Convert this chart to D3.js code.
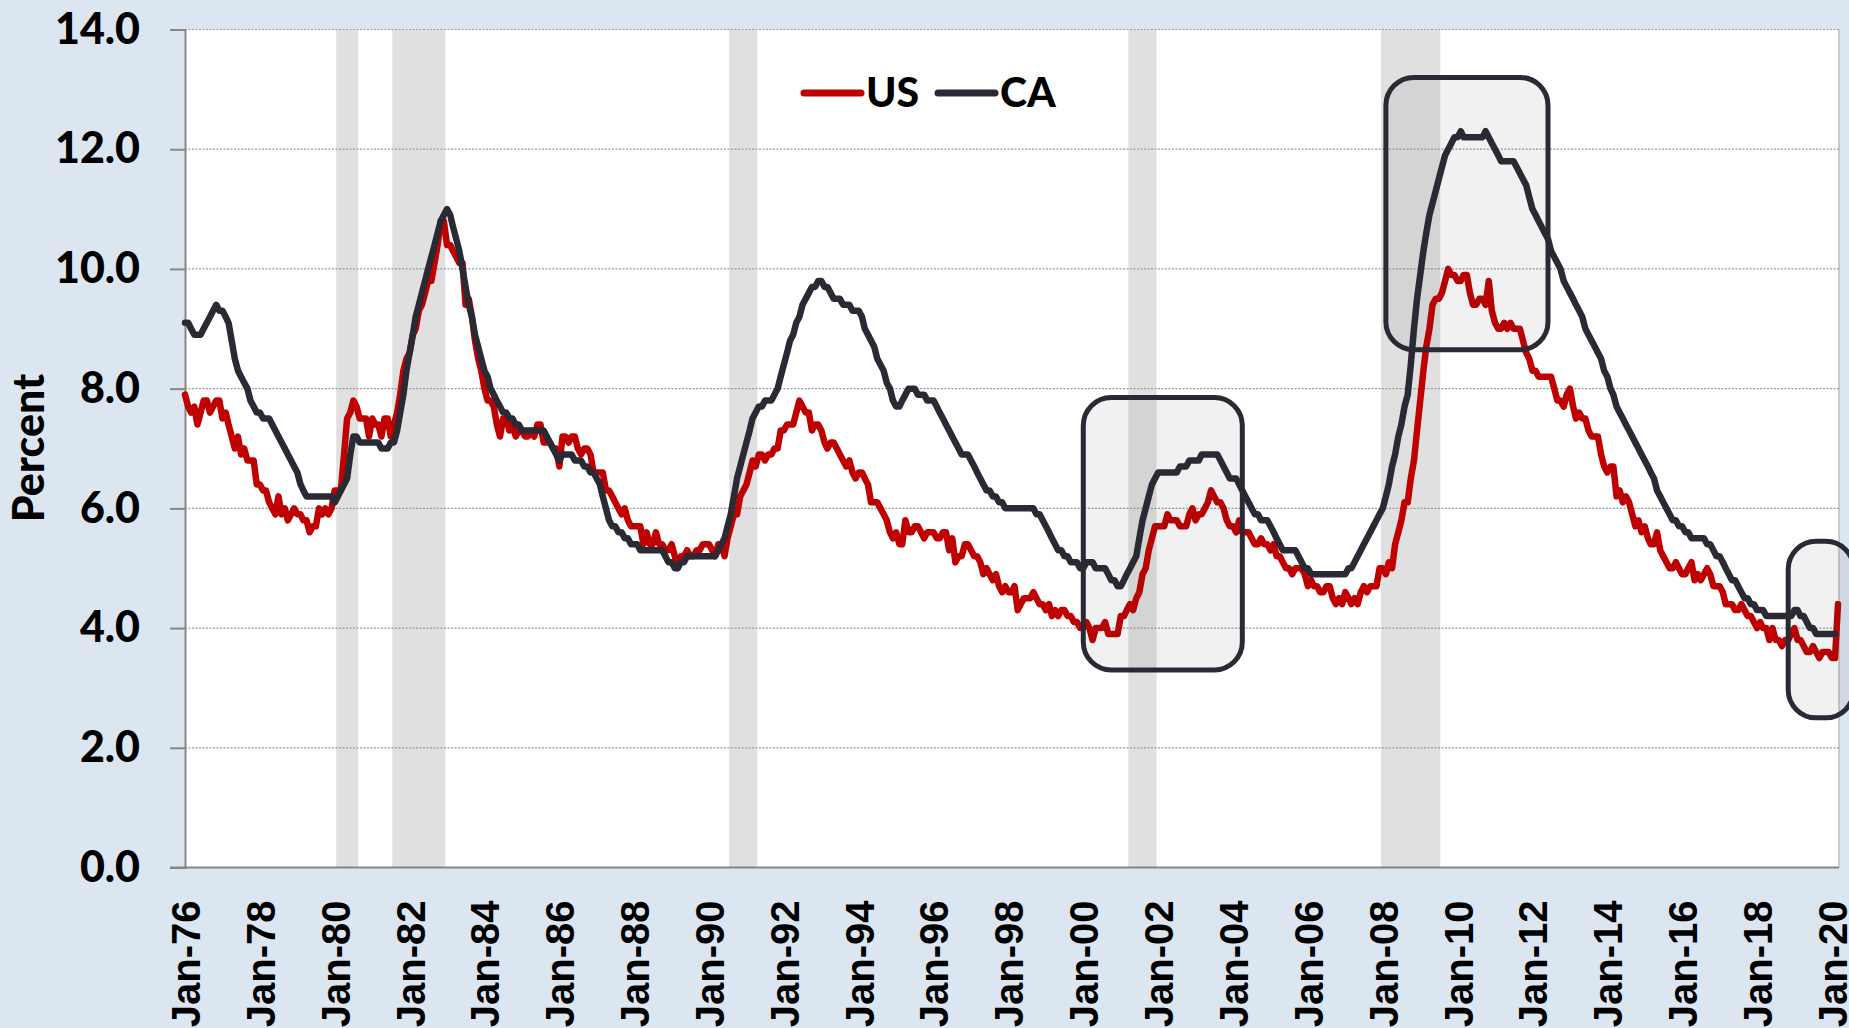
<!DOCTYPE html>
<meta charset="utf-8">
<script src="https://d3js.org/d3.v7.min.js"></script>
<style>
  body { margin: 0; background: #dce6f1; }
</style>
<div id="chart"></div>
<script>

// monthly unemployment rate, Jan-76 .. Mar-20 (US) and Jan-76 .. Feb-20 (CA)
var usRate = [
  7.9,7.7,7.6,7.7,7.4,7.6,7.8,7.8,7.6,7.7,7.8,7.8,
  7.5,7.6,7.4,7.2,7.0,7.2,6.9,7.0,6.8,6.8,6.8,6.4,
  6.4,6.3,6.3,6.1,6.0,5.9,6.2,5.9,6.0,5.8,5.9,6.0,
  5.9,5.9,5.8,5.8,5.6,5.7,5.7,6.0,5.9,6.0,5.9,6.0,
  6.3,6.3,6.3,6.9,7.5,7.6,7.8,7.7,7.5,7.5,7.5,7.2,
  7.5,7.4,7.4,7.2,7.5,7.5,7.2,7.4,7.6,7.9,8.3,8.5,
  8.6,8.9,9.0,9.3,9.4,9.6,9.8,9.8,10.1,10.4,10.8,10.8,
  10.4,10.4,10.3,10.2,10.1,10.1,9.4,9.5,9.2,8.8,8.5,8.3,
  8.0,7.8,7.8,7.7,7.4,7.2,7.5,7.5,7.3,7.4,7.2,7.3,
  7.3,7.2,7.2,7.3,7.2,7.4,7.4,7.1,7.1,7.1,7.0,7.0,
  6.7,7.2,7.2,7.1,7.2,7.2,7.0,6.9,7.0,7.0,6.9,6.6,
  6.6,6.6,6.6,6.3,6.3,6.2,6.1,6.0,5.9,6.0,5.8,5.7,
  5.7,5.7,5.7,5.4,5.6,5.4,5.4,5.6,5.4,5.4,5.3,5.3,
  5.4,5.2,5.0,5.2,5.2,5.3,5.2,5.2,5.3,5.3,5.4,5.4,
  5.4,5.3,5.2,5.4,5.4,5.2,5.5,5.7,5.9,5.9,6.2,6.3,
  6.4,6.6,6.8,6.7,6.9,6.9,6.8,6.9,6.9,7.0,7.0,7.3,
  7.3,7.4,7.4,7.4,7.6,7.8,7.7,7.6,7.6,7.3,7.4,7.4,
  7.3,7.1,7.0,7.1,7.1,7.0,6.9,6.8,6.7,6.8,6.6,6.5,
  6.6,6.6,6.5,6.4,6.1,6.1,6.1,6.0,5.9,5.8,5.6,5.5,
  5.6,5.4,5.4,5.8,5.6,5.6,5.7,5.7,5.6,5.5,5.6,5.6,
  5.6,5.5,5.5,5.6,5.6,5.3,5.5,5.1,5.2,5.2,5.4,5.4,
  5.3,5.2,5.2,5.1,4.9,5.0,4.9,4.8,4.9,4.7,4.6,4.7,
  4.6,4.6,4.7,4.3,4.4,4.5,4.5,4.5,4.6,4.5,4.4,4.4,
  4.3,4.4,4.2,4.3,4.2,4.3,4.3,4.2,4.2,4.1,4.1,4.0,
  4.0,4.1,4.0,3.8,4.0,4.0,4.0,4.1,3.9,3.9,3.9,3.9,
  4.2,4.2,4.3,4.4,4.3,4.5,4.6,4.9,5.0,5.3,5.5,5.7,
  5.7,5.7,5.7,5.9,5.8,5.8,5.8,5.7,5.7,5.7,5.9,6.0,
  5.8,5.9,5.9,6.0,6.1,6.3,6.2,6.1,6.1,6.0,5.8,5.7,
  5.7,5.6,5.8,5.6,5.6,5.6,5.5,5.4,5.4,5.5,5.4,5.4,
  5.3,5.4,5.2,5.2,5.1,5.0,5.0,4.9,5.0,5.0,5.0,4.9,
  4.7,4.8,4.7,4.7,4.6,4.6,4.7,4.7,4.5,4.4,4.5,4.4,
  4.6,4.5,4.4,4.5,4.4,4.6,4.7,4.6,4.7,4.7,4.7,5.0,
  5.0,4.9,5.1,5.0,5.4,5.6,5.8,6.1,6.1,6.5,6.8,7.3,
  7.8,8.3,8.7,9.0,9.4,9.5,9.5,9.6,9.8,10.0,9.9,9.9,
  9.8,9.8,9.9,9.9,9.6,9.4,9.4,9.5,9.5,9.4,9.8,9.3,
  9.1,9.0,9.0,9.1,9.0,9.1,9.0,9.0,9.0,8.8,8.6,8.5,
  8.3,8.3,8.2,8.2,8.2,8.2,8.2,8.0,7.8,7.8,7.7,7.9,
  8.0,7.7,7.5,7.6,7.5,7.5,7.3,7.2,7.2,7.2,6.9,6.7,
  6.6,6.7,6.7,6.2,6.3,6.1,6.2,6.1,5.9,5.7,5.8,5.6,
  5.7,5.5,5.4,5.4,5.6,5.3,5.2,5.1,5.0,5.0,5.1,5.0,
  4.9,4.9,5.0,5.1,4.8,4.9,4.8,4.9,5.0,4.9,4.7,4.7,
  4.7,4.6,4.4,4.4,4.4,4.3,4.3,4.4,4.3,4.2,4.2,4.1,
  4.0,4.1,4.0,4.0,3.8,4.0,3.8,3.8,3.7,3.8,3.8,3.9,
  4.0,3.8,3.8,3.7,3.6,3.6,3.7,3.6,3.5,3.6,3.6,3.6,
  3.5,3.5,4.4
];

var caRate = [
  9.1,9.1,9.0,8.9,8.9,8.9,9.0,9.1,9.2,9.3,9.4,9.3,
  9.3,9.2,9.1,8.8,8.5,8.3,8.2,8.1,8.0,7.8,7.7,7.6,
  7.6,7.5,7.5,7.5,7.4,7.3,7.2,7.1,7.0,6.9,6.8,6.7,
  6.6,6.4,6.3,6.2,6.2,6.2,6.2,6.2,6.2,6.2,6.2,6.2,
  6.1,6.2,6.3,6.4,6.5,6.9,7.2,7.2,7.1,7.1,7.1,7.1,
  7.1,7.1,7.1,7.0,7.0,7.0,7.1,7.1,7.3,7.6,7.9,8.3,
  8.6,8.9,9.2,9.4,9.6,9.8,10.0,10.2,10.4,10.6,10.8,10.9,
  11.0,10.9,10.7,10.5,10.3,10.0,9.7,9.4,9.2,8.9,8.7,8.5,
  8.3,8.2,8.0,7.9,7.8,7.7,7.6,7.6,7.5,7.5,7.4,7.4,
  7.3,7.3,7.3,7.3,7.3,7.3,7.3,7.3,7.2,7.1,7.0,6.9,
  6.8,6.9,6.9,6.9,6.9,6.8,6.8,6.8,6.7,6.7,6.6,6.6,
  6.5,6.4,6.2,6.0,5.8,5.7,5.7,5.6,5.6,5.5,5.5,5.4,
  5.4,5.4,5.3,5.3,5.3,5.3,5.3,5.3,5.3,5.3,5.2,5.1,
  5.1,5.0,5.0,5.1,5.1,5.2,5.2,5.2,5.2,5.2,5.2,5.2,
  5.2,5.2,5.2,5.3,5.4,5.5,5.7,5.9,6.2,6.5,6.7,6.9,
  7.1,7.3,7.5,7.6,7.7,7.7,7.8,7.8,7.8,7.9,8.0,8.2,
  8.4,8.6,8.8,8.9,9.1,9.2,9.4,9.5,9.6,9.7,9.7,9.8,
  9.8,9.7,9.7,9.6,9.5,9.5,9.5,9.4,9.4,9.4,9.3,9.3,
  9.3,9.2,9.0,8.9,8.8,8.7,8.5,8.4,8.3,8.1,8.0,7.8,
  7.7,7.7,7.8,7.9,8.0,8.0,8.0,7.9,7.9,7.9,7.8,7.8,
  7.8,7.7,7.6,7.5,7.4,7.3,7.2,7.1,7.0,6.9,6.9,6.9,
  6.8,6.7,6.6,6.5,6.4,6.3,6.3,6.2,6.2,6.1,6.1,6.0,
  6.0,6.0,6.0,6.0,6.0,6.0,6.0,6.0,6.0,5.9,5.9,5.8,
  5.7,5.6,5.5,5.4,5.3,5.3,5.2,5.2,5.1,5.1,5.1,5.0,
  5.0,5.1,5.1,5.1,5.0,5.0,5.0,5.0,4.9,4.8,4.8,4.7,
  4.7,4.8,4.9,5.0,5.1,5.2,5.5,5.8,6.0,6.2,6.4,6.5,
  6.6,6.6,6.6,6.6,6.6,6.6,6.6,6.7,6.7,6.7,6.8,6.8,
  6.8,6.8,6.9,6.9,6.9,6.9,6.9,6.9,6.8,6.7,6.6,6.5,
  6.5,6.5,6.4,6.3,6.2,6.1,6.0,5.9,5.9,5.8,5.8,5.8,
  5.7,5.6,5.5,5.4,5.3,5.3,5.3,5.3,5.3,5.2,5.1,5.0,
  5.0,4.9,4.9,4.9,4.9,4.9,4.9,4.9,4.9,4.9,4.9,4.9,
  4.9,5.0,5.0,5.1,5.2,5.3,5.4,5.5,5.6,5.7,5.8,5.9,
  6.0,6.2,6.4,6.7,6.9,7.2,7.4,7.7,7.9,8.4,9.0,9.5,
  9.9,10.3,10.6,10.9,11.1,11.3,11.5,11.7,11.9,12.0,12.1,12.2,
  12.2,12.3,12.2,12.2,12.2,12.2,12.2,12.2,12.2,12.3,12.2,12.1,
  12.0,11.9,11.8,11.8,11.8,11.8,11.8,11.7,11.6,11.5,11.4,11.2,
  11.0,10.9,10.8,10.7,10.6,10.5,10.3,10.2,10.1,10.0,9.8,9.7,
  9.6,9.5,9.4,9.3,9.2,9.0,8.9,8.8,8.7,8.6,8.5,8.3,
  8.2,8.0,7.9,7.7,7.6,7.5,7.4,7.3,7.2,7.1,7.0,6.9,
  6.8,6.7,6.6,6.5,6.3,6.2,6.1,6.0,5.9,5.8,5.8,5.7,
  5.7,5.6,5.6,5.5,5.5,5.5,5.5,5.5,5.4,5.4,5.3,5.2,
  5.2,5.1,5.0,4.9,4.8,4.8,4.7,4.6,4.5,4.5,4.4,4.4,
  4.3,4.3,4.3,4.2,4.2,4.2,4.2,4.2,4.2,4.2,4.2,4.2,
  4.3,4.3,4.2,4.2,4.1,4.0,4.0,3.9,3.9,3.9,3.9,3.9,
  3.9,3.9
];

var xLabels = ["Jan-76","Jan-78","Jan-80","Jan-82","Jan-84","Jan-86","Jan-88","Jan-90",
               "Jan-92","Jan-94","Jan-96","Jan-98","Jan-00","Jan-02","Jan-04","Jan-06",
               "Jan-08","Jan-10","Jan-12","Jan-14","Jan-16","Jan-18","Jan-20"];
var yTicks = [0, 2, 4, 6, 8, 10, 12, 14];

// recession months (first, last)
var recessions = [["1980-01","1980-07"], ["1981-07","1982-11"], ["1990-07","1991-03"],
                  ["2001-03","2001-11"], ["2007-12","2009-06"]];

// highlighted periods (month range and value range)
var highlights = [
  { from: "2000-01", to: "2004-04", lo: 3.3, hi: 7.85 },
  { from: "2008-02", to: "2012-06", lo: 8.65, hi: 13.2 },
  { from: "2018-11", to: "2020-08", lo: 2.5, hi: 5.45 }
];

var seriesNames = ["US", "CA"];
var colors = { US: "#c00000", CA: "#2a2a35" };

var width = 1849, height = 1028;
var plotLeft = 185, plotRight = 1839, plotTop = 29.5, plotBottom = 867.5;

var svg = d3.select("#chart")
  .append("svg")
    .attr("width", width)
    .attr("height", height);

svg.append("rect")
  .attr("width", width)
  .attr("height", height)
  .attr("fill", "#dce6f1");

var parseMonth = d3.timeParse("%Y-%m");
var monthOf = function(i) { return new Date(1976, i, 1); };
var midMonth = function(s) { return d3.timeDay.offset(parseMonth(s), 15); };

var x = d3.scaleTime()
  .domain([new Date(1976, 0, 1), new Date(2020, 2, 1)])
  .range([plotLeft, 1838]);
var y = d3.scaleLinear()
  .domain([0, 14])
  .range([plotBottom, plotTop]);

// plot area
svg.append("rect")
  .attr("x", plotLeft).attr("y", plotTop)
  .attr("width", plotRight - plotLeft).attr("height", plotBottom - plotTop)
  .attr("fill", "#fff");

// recession bands
svg.append("g").selectAll("rect")
  .data(recessions)
  .enter()
  .append("rect")
    .attr("x", function(d) { return x(midMonth(d[0])); })
    .attr("width", function(d) { return x(d3.timeMonth.offset(midMonth(d[1]), 1)) - x(midMonth(d[0])); })
    .attr("y", plotTop)
    .attr("height", plotBottom - plotTop)
    .attr("fill", "#e0e0e0");

// gridlines
svg.append("g").selectAll("line")
  .data(yTicks.filter(function(d) { return d > 0; }))
  .enter()
  .append("line")
    .attr("x1", plotLeft).attr("x2", plotRight)
    .attr("y1", function(d) { return y(d); })
    .attr("y2", function(d) { return y(d); })
    .attr("stroke", "#9a9a9a")
    .attr("stroke-width", 1.2)
    .attr("stroke-dasharray", "2,1.5");

// right edge of the plot
svg.append("line")
  .attr("x1", plotRight).attr("x2", plotRight)
  .attr("y1", plotTop).attr("y2", plotBottom)
  .attr("stroke", "#b0b0b0").attr("stroke-width", 1.2);

// y axis
var yAxis = svg.append("g")
  .attr("transform", "translate(" + plotLeft + ",0)")
  .call(d3.axisLeft(y).tickValues(yTicks).tickSize(15).tickPadding(30).tickFormat(d3.format(".1f")));
yAxis.select(".domain").attr("stroke", "#868686").attr("stroke-width", 2);
yAxis.selectAll(".tick line").attr("stroke", "#868686").attr("stroke-width", 2);
yAxis.selectAll(".tick text")
  .attr("fill", "#000")
  .style("font-family", "Lato, 'Open Sans', sans-serif")
  .style("font-weight", "900")
  .style("font-size", "43px");

// x axis
var tickDates = xLabels.map(function(l) { return d3.timeParse("%b-%y")(l); });
var xAxis = svg.append("g")
  .attr("transform", "translate(0," + plotBottom + ")")
  .call(d3.axisBottom(x).tickValues(tickDates).tickSize(0).tickFormat(function(d, i) { return xLabels[i]; }));
xAxis.select(".domain").attr("stroke", "#868686").attr("stroke-width", 2)
  .attr("d", "M" + (plotLeft - 15) + ",0H" + plotRight);
xAxis.selectAll(".tick text")
  .attr("fill", "#000")
  .attr("transform", "rotate(-90)")
  .attr("text-anchor", "end")
  .attr("x", -33)
  .attr("y", 0)
  .attr("dy", "0.36em")
  .style("font-family", "'Liberation Sans', Arial, sans-serif")
  .style("font-weight", "bold")
  .style("font-size", "40px");

// lines
var line = d3.line()
  .x(function(d, i) { return x(monthOf(i)); })
  .y(function(d) { return y(d); });

var seriesData = { US: usRate, CA: caRate };
svg.append("g").selectAll("path")
  .data(seriesNames)
  .enter()
  .append("path")
    .attr("d", function(d) { return line(seriesData[d]); })
    .attr("fill", "none")
    .attr("stroke", function(d) { return colors[d]; })
    .attr("stroke-width", 6.5)
    .attr("stroke-linejoin", "round")
    .attr("stroke-linecap", "round");

// highlight boxes
svg.append("g").selectAll("rect")
  .data(highlights)
  .enter()
  .append("rect")
    .attr("x", function(d) { return x(parseMonth(d.from)); })
    .attr("width", function(d) { return x(parseMonth(d.to)) - x(parseMonth(d.from)); })
    .attr("y", function(d) { return y(d.hi); })
    .attr("height", function(d) { return y(d.lo) - y(d.hi); })
    .attr("rx", 28).attr("ry", 28)
    .attr("fill", "rgba(40,40,50,0.065)")
    .attr("stroke", "#2a2a35")
    .attr("stroke-width", 5);

// legend
var legend = svg.append("g");
var legendX = { US: 804, CA: 938 };
seriesNames.forEach(function(name) {
  legend.append("line")
    .attr("x1", legendX[name]).attr("x2", legendX[name] + 57)
    .attr("y1", 93).attr("y2", 93)
    .attr("stroke", colors[name])
    .attr("stroke-width", 7)
    .attr("stroke-linecap", "round");
  legend.append("text")
    .attr("x", legendX[name] + 62)
    .attr("y", 107)
    .text(name)
    .style("font-family", "Lato, 'Open Sans', sans-serif")
    .style("font-weight", "900")
    .style("font-size", "41px");
});

// y axis title
svg.append("text")
  .attr("transform", "translate(29,448) rotate(-90)")
  .attr("text-anchor", "middle")
  .attr("dy", "0.36em")
  .text("Percent")
  .style("font-family", "Lato, 'Open Sans', sans-serif")
  .style("font-weight", "900")
  .style("font-size", "43px");

</script>
